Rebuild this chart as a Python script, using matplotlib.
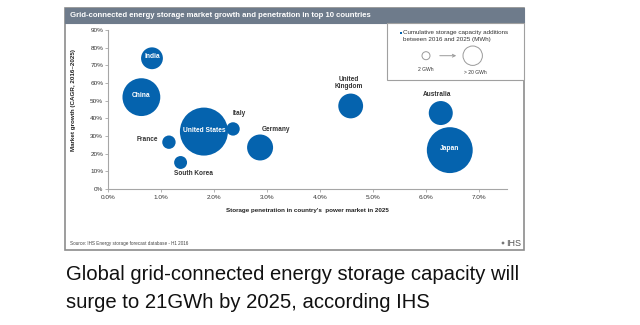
import matplotlib
matplotlib.use("Agg")
import matplotlib.pyplot as plt
from matplotlib.patches import Rectangle, Circle, FancyArrowPatch
import numpy as np

plt.rcParams['font.family'] = ['Liberation Sans', 'DejaVu Sans']

# ---- data ----
countries = ["India", "China", "United States", "Italy", "France", "South Korea",
             "Germany", "United Kingdom", "Australia", "Japan"]
penetration = [0.83, 0.63, 1.81, 2.36, 1.15, 1.37, 2.87, 4.58, 6.28, 6.45]   # %
growth = [74, 52, 32.5, 34, 26.5, 15, 23.5, 47, 43, 22]                       # % CAGR
capacity_mwh = [1200, 3600, 5800, 450, 450, 420, 1700, 1550, 1450, 5300]
inside = [True, True, True, False, False, False, False, False, False, True]
xticks = [0, 1, 2, 3, 4, 5, 6, 7]
yticks = [0, 10, 20, 30, 40, 50, 60, 70, 80, 90]

BLUE = "#0563ae"
W, H = 640, 325
fig = plt.figure(figsize=(6.4, 3.25), dpi=100)
fig.patch.set_facecolor("white")

# decoration layer in pixel coordinates
deco = fig.add_axes([0, 0, 1, 1], zorder=0)
deco.set_xlim(0, W)
deco.set_ylim(H, 0)
deco.axis("off")
deco.add_patch(Rectangle((65, 8), 459, 242, fill=False, ec="#8c8c8c", lw=1.2))
deco.add_patch(Rectangle((65, 8), 459, 15, fc="#6e7b8b", ec="#6e7b8b", lw=0.8))
deco.text(70, 15.8, "Grid-connected energy storage market growth and penetration in top 10 countries",
          color="white", fontsize=5.6, fontweight="bold", va="center", ha="left")
deco.text(70, 243, "Source: IHS Energy storage forecast database - H1 2016",
          color="#444444", fontsize=3.3, va="center", ha="left")
deco.add_patch(Circle((503, 243), 1.4, fc="#777777", ec="none"))
deco.text(506, 243, "IHS", color="#555555", fontsize=6.5, va="center", ha="left")

# caption
fig.text(66 / W, 1 - 275 / H, "Global grid-connected energy storage capacity will",
         fontsize=14.6, color="#111111", va="center", ha="left")
fig.text(66 / W, 1 - 303 / H, "surge to 21GWh by 2025, according IHS",
         fontsize=14.6, color="#111111", va="center", ha="left")

# main axes
ax = fig.add_axes([108 / W, 1 - 189 / H, (507 - 108) / W, (189 - 30) / H], zorder=1)
ax.set_facecolor("none")
ax.set_xlim(0, 7.53)
ax.set_ylim(0, 90)
for s in ["top", "right"]:
    ax.spines[s].set_visible(False)
for s in ["left", "bottom"]:
    ax.spines[s].set_color("#a6a6a6")
    ax.spines[s].set_linewidth(0.8)
ax.set_xticks(xticks)
ax.set_xticklabels([f"{v:.1f}%" for v in xticks])
ax.set_yticks(yticks)
ax.set_yticklabels([f"{v}%" for v in yticks])
ax.tick_params(axis="both", labelsize=4.6, colors="#a6a6a6", labelcolor="#333333",
               length=2, width=0.6, pad=1.5)
ax.tick_params(axis="x", pad=2.5)
ax.set_xlabel("Storage penetration in country's  power market in 2025", fontsize=4.5,
              fontweight="bold", color="#222222", labelpad=5.5)
ax.set_ylabel("Market growth (CAGR, 2016\u20132025)", fontsize=4.5, fontweight="bold",
              color="#222222")
ax.yaxis.set_label_coords(-0.080, 0.56)

k = (2 * 24 * 0.72) ** 2 / 5800
sizes = [c * k for c in capacity_mwh]
ax.scatter(penetration, growth, s=sizes, c=BLUE, edgecolors="none", zorder=3, clip_on=False)

# label offsets in points
outside_offsets = {
    "Italy": (4.3, 11.0, "center"),
    "France": (-7.9, 2.2, "right"),
    "South Korea": (9.6, -8.1, "center"),
    "Germany": (11.5, 13.2, "center"),
    "United Kingdom": (-1.2, 16.3, "center"),
    "Australia": (-2.9, 13.5, "center"),
}
for name, x, y, ins in zip(countries, penetration, growth, inside):
    if ins:
        ax.annotate(name, (x, y), xytext=(0, 1), textcoords="offset points",
                    ha="center", va="center", color="white", fontsize=4.8,
                    fontweight="bold", zorder=4)
    else:
        dx, dy, ha = outside_offsets[name]
        label = "United\nKingdom" if name == "United Kingdom" else name
        ax.annotate(label, (x, y), xytext=(dx, dy), textcoords="offset points",
                    ha=ha, va="center", color="#333333", fontsize=4.7,
                    fontweight="bold", zorder=4, linespacing=1.0)

# legend box (drawn on top)
leg = fig.add_axes([0, 0, 1, 1], zorder=2)
leg.set_xlim(0, W)
leg.set_ylim(H, 0)
leg.axis("off")
leg.add_patch(Rectangle((387, 23), 137, 57, fc="white", ec="#a0a0a0", lw=0.8))
leg.add_patch(Rectangle((399.5, 31.5), 2.2, 2.2, fc=BLUE, ec="none"))
leg.text(403, 32.8, "Cumulative storage capacity additions", fontsize=4.5, color="#333333",
         va="center", ha="left")
leg.text(403, 39.5, "between 2016 and 2025 (MWh)", fontsize=4.5, color="#333333",
         va="center", ha="left")
leg.add_patch(Circle((426, 55.7), 4, fc="white", ec="#9a9a9a", lw=0.7))
leg.add_patch(Circle((472.7, 55.7), 9.7, fc="white", ec="#9a9a9a", lw=0.7))
leg.add_patch(FancyArrowPatch((437, 55.7), (459, 55.7), arrowstyle="->", mutation_scale=5,
                              color="#9a9a9a", lw=0.7))
leg.text(426, 69.3, "2 GWh", fontsize=3.6, color="#333333", va="center", ha="center")
leg.text(475, 72.3, "> 20 GWh", fontsize=3.6, color="#333333", va="center", ha="center")

fig.savefig("out.png", dpi=100, facecolor="white")
